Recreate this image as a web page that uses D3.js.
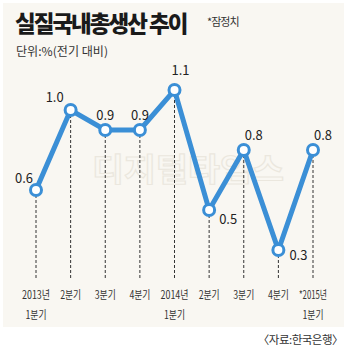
<!DOCTYPE html>
<html><head><meta charset="utf-8">
<script src="https://cdn.jsdelivr.net/npm/d3@7"></script>
<style>
html,body{margin:0;padding:0;background:#fff;}
svg{display:block;}
text{font-family:"Noto Sans CJK KR","Noto Sans",sans-serif;}
</style></head>
<body>
<script>
const categories = ["2013Q1","2013Q2","2013Q3","2013Q4","2014Q1","2014Q2","2014Q3","2014Q4","2015Q1"];
const labelLine1 = ["2013년","2분기","3분기","4분기","2014년","2분기","3분기","4분기","*2015년"];
const labelLine2 = ["1분기","","","","1분기","","","","1분기"];
const values = [0.6, 1.0, 0.9, 0.9, 1.1, 0.5, 0.8, 0.3, 0.8];
const valueLabels = ["0.6","1.0","0.9","0.9","1.1","0.5","0.8","0.3","0.8"];

const W = 350, H = 350;
const svg = d3.select("body").append("svg").attr("width", W).attr("height", H);

svg.append("rect").attr("x", 3).attr("y", 3).attr("width", 341).attr("height", 324).attr("fill", "#f9f7f2");

// watermark
svg.append("text").attr("x", 92).attr("y", 181)
  .attr("font-size", 32).attr("font-weight", 700).attr("fill", "none")
  .attr("stroke", "#ebe7de").attr("stroke-width", 1.2)
  .attr("textLength", 192).attr("lengthAdjust", "spacingAndGlyphs").text("디지털타임스");

// title
svg.append("text").attr("x", 15).attr("y", 32).attr("font-size", 22.5).attr("font-weight", 900)
  .attr("fill", "#1a1a1a").attr("letter-spacing", -2)
  .text("실질국내총생산 추이");
svg.append("text").attr("x", 207).attr("y", 26).attr("font-size", 11).attr("fill", "#333")
  .attr("letter-spacing", -1).text("*잠정치");
svg.append("text").attr("x", 16).attr("y", 56).attr("font-size", 12).attr("fill", "#333")
  .attr("textLength", 92).attr("lengthAdjust", "spacingAndGlyphs").text("단위:%(전기 대비)");

const x = d3.scalePoint().domain(categories).range([36, 313]);
const y = d3.scaleLinear().domain([0.3, 1.1]).range([250, 90]);

// dashed drop lines
svg.append("g").selectAll("line").data(values).join("line")
  .attr("x1", (d, i) => x(categories[i])).attr("x2", (d, i) => x(categories[i]))
  .attr("y1", d => y(d)).attr("y2", 278)
  .attr("stroke", "#333").attr("stroke-width", 1).attr("stroke-dasharray", "3,2");

// line
const line = d3.line().x((d, i) => x(categories[i])).y(d => y(d));
svg.append("path").datum(values).attr("d", line).attr("fill", "none")
  .attr("stroke", "#3b8fd6").attr("stroke-width", 5).attr("stroke-linejoin", "miter");

// points
svg.append("g").selectAll("circle").data(values).join("circle")
  .attr("cx", (d, i) => x(categories[i])).attr("cy", d => y(d)).attr("r", 5.5)
  .attr("fill", "#fff").attr("stroke", "#3b8fd6").attr("stroke-width", 3);

// value labels
const dx = [-12, -16, 0, 0, 6, 19, 10, 20, 10];
const dy = [-7, -8, -10, -10, -15, 14, -10, 10, -10];
svg.append("g").selectAll("text").data(values).join("text")
  .attr("x", (d, i) => x(categories[i]) + dx[i]).attr("y", (d, i) => y(d) + dy[i])
  .attr("text-anchor", "middle").attr("font-size", 13).attr("fill", "#222")
  .attr("textLength", 18).attr("lengthAdjust", "spacingAndGlyphs")
  .text((d, i) => valueLabels[i]);

// x labels
const xl = svg.append("g");
xl.selectAll("text.l1").data(categories).join("text").attr("class", "l1")
  .attr("x", d => x(d)).attr("y", 299).attr("text-anchor", "middle")
  .attr("font-size", 11.5).attr("fill", "#333")
  .attr("textLength", (d, i) => labelLine1[i].length > 3 ? 28 : 21).attr("lengthAdjust", "spacingAndGlyphs")
  .text((d, i) => labelLine1[i]);
xl.selectAll("text.l2").data(categories.filter((d, i) => labelLine2[i])).join("text").attr("class", "l2")
  .attr("x", d => x(d)).attr("y", 319).attr("text-anchor", "middle")
  .attr("font-size", 11.5).attr("fill", "#333")
  .attr("textLength", 21).attr("lengthAdjust", "spacingAndGlyphs")
  .text(d => labelLine2[categories.indexOf(d)]);

svg.append("text").attr("x", 343).attr("y", 344).attr("text-anchor", "end")
  .attr("font-size", 11.5).attr("fill", "#333").attr("letter-spacing", -0.5)
  .text("〈자료:한국은행〉");
</script>
</body></html>
